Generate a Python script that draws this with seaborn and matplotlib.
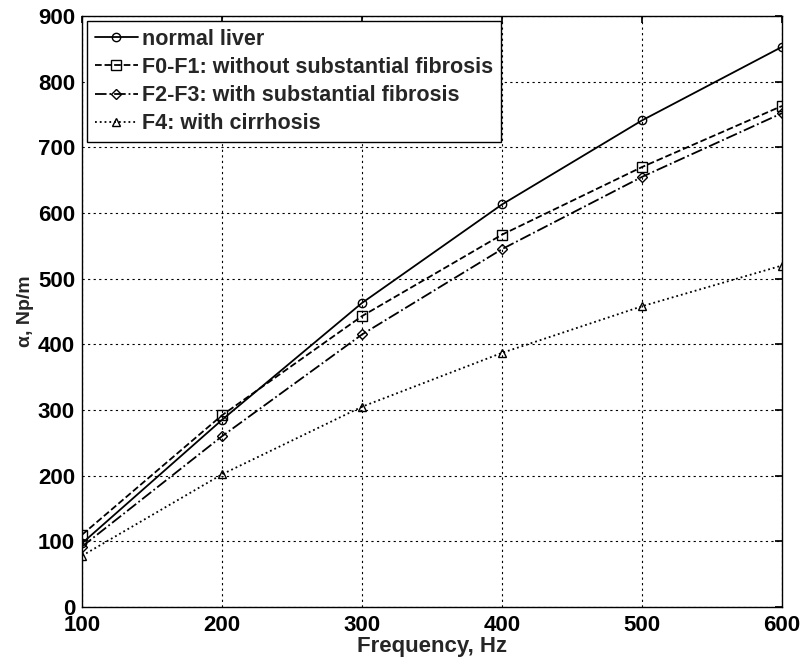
import matplotlib
matplotlib.use("Agg")
import matplotlib.pyplot as plt
import seaborn as sns
import pandas as pd

freq = [100, 200, 300, 400, 500, 600]
normal = [97, 285, 463, 613, 741, 853]
f0f1 = [110, 292, 443, 567, 670, 763]
f2f3 = [92, 260, 415, 545, 655, 752]
f4 = [78, 202, 305, 387, 458, 520]
labels = ["normal liver", "F0-F1: without substantial fibrosis",
          "F2-F3: with substantial fibrosis", "F4: with cirrhosis"]

sns.set_theme(style="white")
plt.rcParams['font.family'] = ['Liberation Sans', 'DejaVu Sans']
plt.rcParams['font.weight'] = 'bold'

rows = []
for lab, vals in zip(labels, [normal, f0f1, f2f3, f4]):
    for f, v in zip(freq, vals):
        rows.append({"Frequency": f, "alpha": v, "series": lab})
df = pd.DataFrame(rows)

fig = plt.figure(figsize=(8.03, 6.65), dpi=100)
ax = fig.add_axes([82/803, 1-607/665, 700/803, 591/665])

styles = {labels[0]: ('-', 'o'), labels[1]: ('--', 's'),
          labels[2]: ('-.', 'D'), labels[3]: (':', '^')}
msize = {'o': 6, 's': 6.5, 'D': 5, '^': 6}
for lab in labels:
    ls, mk = styles[lab]
    sub = df[df.series == lab]
    sns.lineplot(data=sub, x="Frequency", y="alpha", ax=ax, color='black',
                 linestyle=ls, marker=mk, markersize=msize[mk],
                 markerfacecolor='none', markeredgecolor='black',
                 markeredgewidth=1.0, linewidth=1.3, label=lab)

ax.set_xlim(100, 600)
ax.set_ylim(0, 900)
ax.set_xticks(freq)
ax.set_yticks(range(0, 901, 100))
ax.grid(True, color='black', linestyle=(0, (2, 3)), linewidth=0.8)
for s in ax.spines.values():
    s.set_color('black')
    s.set_linewidth(1.0)
ax.tick_params(axis='both', direction='in', length=5, labelsize=16,
               top=True, right=True, colors='black')
ax.tick_params(axis='x', pad=6)
ax.tick_params(axis='y', pad=5)
for t in ax.get_xticklabels() + ax.get_yticklabels():
    t.set_fontweight('bold')
ax.set_xlabel("Frequency, Hz", fontsize=16, fontweight='bold', labelpad=0)
ax.set_ylabel("α, Np/m", fontsize=14, fontweight='bold', labelpad=3)

leg = ax.legend(loc='upper left', frameon=True, fancybox=False,
                edgecolor='black', framealpha=1, borderaxespad=0.25,
                handlelength=2.0, handletextpad=0.2, labelspacing=0.33,
                borderpad=0.35, prop={'weight': 'bold', 'size': 15.5})
leg.get_frame().set_linewidth(1.0)

fig.savefig("out.png", dpi=100)
